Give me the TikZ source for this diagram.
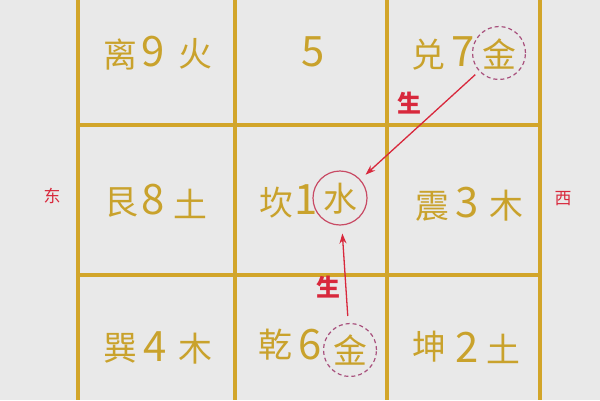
\documentclass[tikz,border=0pt]{standalone}
\usepackage{fontspec}
\setmainfont{Noto Sans CJK SC}
\usetikzlibrary{arrows.meta}
\definecolor{bg}{HTML}{E9E9E9}
\definecolor{gold}{HTML}{D2A52A}
\definecolor{goldtext}{HTML}{C9A22C}
\definecolor{arrowred}{HTML}{D8283C}
\definecolor{ringpink}{HTML}{A8507C}
\definecolor{ringred}{HTML}{C84A64}
\tikzset{
  gua/.style={text=goldtext,inner sep=0pt,font=\fontsize{34}{34}\selectfont},
  num/.style={text=goldtext,inner sep=0pt,font=\fontsize{42}{42}\selectfont},
  ring/.style={circle,draw=ringpink,dashed,dash pattern=on 4bp off 3bp,line width=1.2bp,minimum size=53bp,inner sep=0pt},
  ringsolid/.style={circle,draw=ringred,line width=1.2bp,minimum size=54bp,inner sep=0pt},
  sheng/.style={text=arrowred,inner sep=0pt,font=\fontsize{24}{24}\selectfont\bfseries},
  fang/.style={text=arrowred,inner sep=0pt,font=\fontsize{17}{17}\selectfont},
  link/.style={draw=arrowred,line width=1.3bp,-{Stealth[length=10bp,width=7bp]}}
}
\begin{document}
\begin{tikzpicture}[x=1bp,y=-1bp]
  \fill[bg] (0,0) rectangle (600,400);
  \useasboundingbox (0,0) rectangle (600,400);
  % grid
  \begin{scope}[draw=gold,line width=4bp]
    \draw (78,0) -- (78,400);
    \draw (235,0) -- (235,400);
    \draw (387,0) -- (387,400);
    \draw (540,0) -- (540,400);
    \draw (78,125) -- (540,125);
    \draw (78,275) -- (540,275);
  \end{scope}
  % top row
  \node[gua] (li) at (120,54) {离};
  \node[num] (n9) at (153,52) {9};
  \node[gua] (huo) at (195,54) {火};
  \node[num] (n5) at (313,52) {5};
  \node[gua] (dui) at (428,55) {兑};
  \node[num] (n7) at (463,52) {7};
  \node[gua] (jin1) at (499,54) {金};
  \node[ring] (ring1) at (499,53) {};
  % middle row
  \node[gua] (gen) at (121,203) {艮};
  \node[num] (n8) at (153,200) {8};
  \node[gua] (tu1) at (190,204) {土};
  \node[gua] (kan) at (276,203) {坎};
  \node[num] (n1) at (306,200) {1};
  \node[gua] (shui) at (340,199) {水};
  \node[ringsolid] (ring0) at (340,198) {};
  \node[gua] (zhen) at (432,206) {震};
  \node[num] (n3) at (467,203) {3};
  \node[gua] (mu1) at (506,206) {木};
  % bottom row
  \node[gua] (xun) at (120,348) {巽};
  \node[num] (n4) at (155,347) {4};
  \node[gua] (mu2) at (195,349) {木};
  \node[gua] (qian) at (275,345) {乾};
  \node[num] (n6) at (310,345) {6};
  \node[gua] (jin2) at (350,350) {金};
  \node[ring] (ring2) at (350,350) {};
  \node[gua] (kun) at (429,347) {坤};
  \node[num] (n2) at (467,347) {2};
  \node[gua] (tu2) at (503,349) {土};
  % directions
  \node[fang] (dong) at (52,196) {东};
  \node[fang] (xi) at (563,199) {西};
  % sheng arrows
  \draw[link,shorten <=5bp,shorten >=7bp] (ring1) -- (ring0);
  \draw[link,shorten <=7bp,shorten >=8bp] (ring2) -- (ring0);
  \node[sheng] (sheng1) at (409,103) {生};
  \node[sheng] (sheng2) at (328,287) {生};
\end{tikzpicture}
\end{document}
